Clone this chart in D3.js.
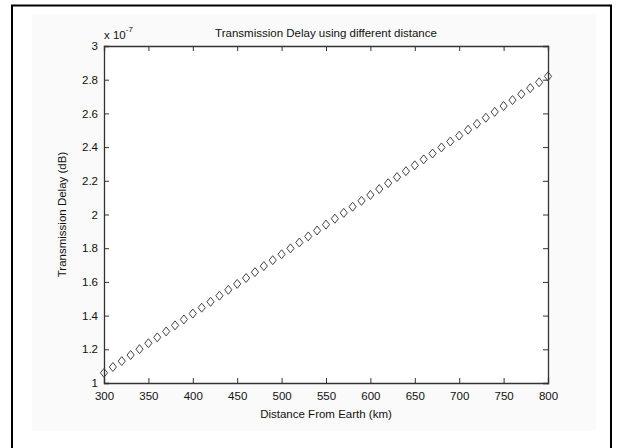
<!DOCTYPE html>
<html>
<head>
<meta charset="utf-8">
<script src="https://cdn.jsdelivr.net/npm/d3@7"></script>
<style>
  body { margin: 0; background: #fff; }
  text { font-family: "Liberation Sans", Arial, sans-serif; fill: #111; }
</style>
</head>
<body>
<div id="chart"></div>
<script>
// Data (delay in units of 1e-7)
const distances = [300, 310, 320, 330, 340, 350, 360, 370, 380, 390,
  400, 410, 420, 430, 440, 450, 460, 470, 480, 490,
  500, 510, 520, 530, 540, 550, 560, 570, 580, 590,
  600, 610, 620, 630, 640, 650, 660, 670, 680, 690,
  700, 710, 720, 730, 740, 750, 760, 770, 780, 790, 800];
const delays = [1.060, 1.095, 1.130, 1.166, 1.201, 1.236, 1.271, 1.306, 1.342, 1.377,
  1.412, 1.447, 1.482, 1.518, 1.553, 1.588, 1.623, 1.658, 1.694, 1.729,
  1.764, 1.799, 1.834, 1.870, 1.905, 1.940, 1.975, 2.010, 2.046, 2.081,
  2.116, 2.151, 2.186, 2.222, 2.257, 2.292, 2.327, 2.362, 2.398, 2.433,
  2.468, 2.503, 2.538, 2.574, 2.609, 2.644, 2.679, 2.714, 2.750, 2.785, 2.820];
const xTicks = [300, 350, 400, 450, 500, 550, 600, 650, 700, 750, 800];
const yTicks = [1, 1.2, 1.4, 1.6, 1.8, 2, 2.2, 2.4, 2.6, 2.8, 3];

const data = distances.map((d, i) => ({ d, v: delays[i] }));

const W = 621, H = 448;
const margin = { top: 46, right: 73, bottom: 65, left: 104 };
const width = W - margin.left - margin.right;
const height = H - margin.top - margin.bottom;

const root = d3.select("#chart").append("svg")
  .attr("width", W)
  .attr("height", H);

// figure frame (open at bottom)
root.append("rect")
  .attr("x", 32).attr("y", 14).attr("width", 564).attr("height", 417)
  .attr("fill", "#fafafa");
root.append("path")
  .attr("d", `M12,${H + 5} L12,5.5 L611,5.5 L611,${H + 5}`)
  .attr("fill", "none").attr("stroke", "#000").attr("stroke-width", 2);

const svg = root.append("g")
  .attr("transform", `translate(${margin.left},${margin.top})`);

svg.append("rect")
  .attr("width", width).attr("height", height)
  .attr("fill", "#fff");

const x = d3.scaleLinear().domain([300, 800]).range([0, width]);
const y = d3.scaleLinear().domain([1, 3]).range([height, 0]);

const axisColor = "#333";

// bottom axis
const gx = svg.append("g")
  .attr("transform", `translate(0,${height})`)
  .call(d3.axisBottom(x).tickValues(xTicks).tickSize(-5).tickPadding(9).tickFormat(d3.format("d")));
// top ticks
const gxt = svg.append("g")
  .call(d3.axisTop(x).tickValues(xTicks).tickSize(-5).tickFormat(""));
// left axis
const gy = svg.append("g")
  .call(d3.axisLeft(y).tickValues(yTicks).tickSize(-5).tickPadding(9).tickFormat(d => String(+d.toFixed(1))));
// right ticks
const gyr = svg.append("g")
  .attr("transform", `translate(${width},0)`)
  .call(d3.axisRight(y).tickValues(yTicks).tickSize(-5).tickFormat(""));

[gx, gxt, gy, gyr].forEach(g => {
  g.selectAll("path").attr("stroke", axisColor).attr("stroke-width", 1.3);
  g.selectAll("line").attr("stroke", axisColor);
  g.selectAll("text")
    .style("font-family", "'Liberation Sans', Arial, sans-serif")
    .style("font-size", "11.5px")
    .attr("fill", "#111");
});
gy.selectAll("text").attr("dx", 3);

// markers
const diamond = "M0,-4.5L3.6,0L0,4.5L-3.6,0Z";
svg.selectAll(".pt")
  .data(data)
  .enter()
  .append("path")
  .attr("class", "pt")
  .attr("d", diamond)
  .attr("transform", p => `translate(${x(p.d)},${y(p.v)})`)
  .attr("fill", "none")
  .attr("stroke", "#444")
  .attr("stroke-width", 1);

// title
svg.append("text")
  .attr("x", width / 2).attr("y", -9)
  .attr("text-anchor", "middle")
  .style("font-size", "11.5px")
  .text("Transmission Delay using different distance");

// exponent label
const ex = svg.append("text")
  .attr("x", 0).attr("y", -7)
  .style("font-size", "11.5px");
ex.append("tspan").text("x 10");
ex.append("tspan").attr("dy", -7).style("font-size", "8px").text("-7");

// axis labels
svg.append("text")
  .attr("x", width / 2).attr("y", height + 35)
  .attr("text-anchor", "middle")
  .style("font-size", "11.5px")
  .text("Distance From Earth (km)");

svg.append("text")
  .attr("transform", `translate(-38,${height / 2}) rotate(-90)`)
  .attr("text-anchor", "middle")
  .style("font-size", "11.5px")
  .text("Transmission Delay (dB)");
</script>
</body>
</html>
